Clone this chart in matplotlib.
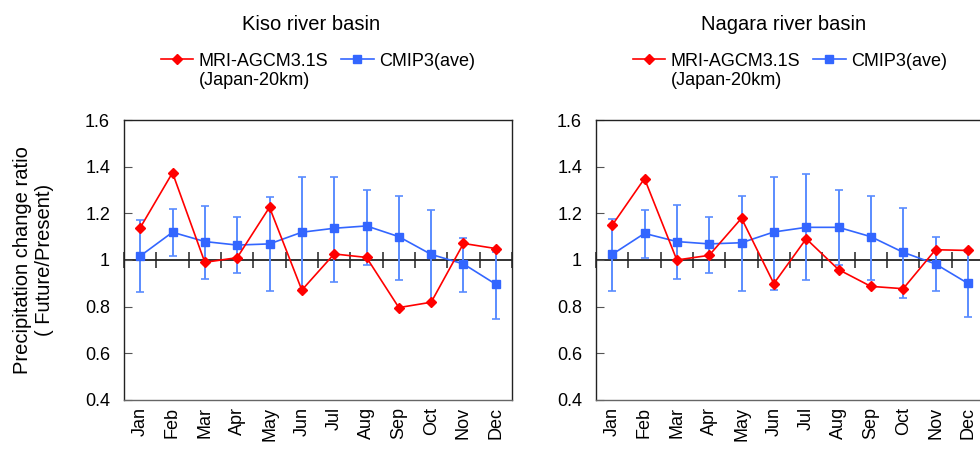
import numpy as np
import matplotlib
matplotlib.use('Agg')
import matplotlib.pyplot as plt
from matplotlib.lines import Line2D

plt.rcParams['font.family'] = ['Liberation Sans', 'DejaVu Sans']

months = ['Jan', 'Feb', 'Mar', 'Apr', 'May', 'Jun',
          'Jul', 'Aug', 'Sep', 'Oct', 'Nov', 'Dec']

# Kiso river basin
kiso_mri = [1.138, 1.374, 0.990, 1.010, 1.226, 0.871,
            1.026, 1.011, 0.796, 0.819, 1.071, 1.049]
kiso_cmip = [1.017, 1.119, 1.079, 1.064, 1.069, 1.119,
             1.136, 1.146, 1.100, 1.024, 0.983, 0.896]
kiso_hi = [1.170, 1.220, 1.230, 1.184, 1.271, 1.357,
           1.357, 1.301, 1.276, 1.216, 1.093, 1.036]
kiso_lo = [0.862, 1.016, 0.919, 0.944, 0.867, 0.875,
           0.907, 0.979, 0.913, 0.821, 0.862, 0.748]

# Nagara river basin
nagara_mri = [1.149, 1.349, 1.000, 1.020, 1.179, 0.899,
              1.091, 0.959, 0.887, 0.877, 1.044, 1.041]
nagara_cmip = [1.024, 1.114, 1.079, 1.069, 1.074, 1.120,
               1.140, 1.140, 1.100, 1.033, 0.983, 0.900]
nagara_hi = [1.174, 1.216, 1.234, 1.184, 1.276, 1.357,
             1.370, 1.301, 1.276, 1.224, 1.097, 1.035]
nagara_lo = [0.867, 1.010, 0.919, 0.944, 0.867, 0.873,
             0.913, 0.979, 0.913, 0.836, 0.867, 0.754]

titles = ['Kiso river basin', 'Nagara river basin']
label_mri = 'MRI-AGCM3.1S'
label_mri_2 = '(Japan-20km)'
label_cmip = 'CMIP3(ave)'

RED = '#FF0000'
BLUE = '#3366FF'
BLUE_ERR = '#5A8CFF'


def draw_panel(ax, title, mri, cmip, hi, lo):
    x = np.arange(len(months))
    cmip = np.array(cmip)
    yerr = [cmip - np.array(lo), np.array(hi) - cmip]

    # reference line at 1 with category-boundary ticks
    ax.axhline(1.0, color='#333333', lw=1.4, zorder=1)
    bounds = np.arange(len(months) + 1) - 0.5
    ax.plot(bounds, np.ones_like(bounds), ls='none', marker='|', ms=11,
            mew=1.1, color='#222222', zorder=1, clip_on=False)

    ax.errorbar(x, cmip, yerr=yerr, fmt='none', ecolor=BLUE_ERR,
                elinewidth=1.4, capsize=3.2, capthick=1.2, zorder=2)
    l2, = ax.plot(x, cmip, color=BLUE, lw=1.2, marker='s', ms=5.5,
                  zorder=3, label=label_cmip)
    l1, = ax.plot(x, mri, color=RED, lw=1.2, marker='D', ms=5.5,
                  zorder=4, label=label_mri)
    blank = Line2D([], [], color='none')

    ax.set_xlim(-0.5, len(months) - 0.5)
    ax.set_ylim(0.4, 1.6)
    ax.set_yticks([0.4, 0.6, 0.8, 1.0, 1.2, 1.4, 1.6])
    ax.set_yticklabels(['0.4', '0.6', '0.8', '1', '1.2', '1.4', '1.6'])
    ax.set_xticks(x)
    ax.set_xticklabels(months, rotation=90)
    ax.tick_params(axis='x', length=0, pad=5, labelsize=13)
    ax.tick_params(axis='y', direction='in', length=6, color='#555555',
                   pad=10, labelsize=13)
    for sp in ax.spines.values():
        sp.set_color('#222222')
        sp.set_linewidth(1.0)
    ax.spines['bottom'].set_color('#666666')

    ax.text(0.483, 1.34, title, transform=ax.transAxes, ha='center',
            va='center', fontsize=14.5)
    # second legend row only carries the rest of the MRI label
    ax.legend(handles=[l1, blank, l2],
              labels=[label_mri, label_mri_2, label_cmip],
              loc='upper center', bbox_to_anchor=(0.5, 1.24), ncol=2,
              frameon=False, fontsize=13, handlelength=1.8,
              handletextpad=0.3, columnspacing=0.7, labelspacing=0.12,
              borderaxespad=0, borderpad=0)


fig = plt.figure(figsize=(9.8, 4.51), dpi=100)
ax1 = fig.add_axes([124 / 980, 1 - 400 / 451, 388 / 980, 280 / 451])
ax2 = fig.add_axes([596 / 980, 1 - 400 / 451, 388 / 980, 280 / 451])

draw_panel(ax1, titles[0], kiso_mri, kiso_cmip, kiso_hi, kiso_lo)
draw_panel(ax2, titles[1], nagara_mri, nagara_cmip, nagara_hi, nagara_lo)

fig.text(33 / 980, 1 - 260 / 451,
         'Precipitation change ratio\n( Future/Present)',
         rotation=90, ha='center', va='center', fontsize=14.5,
         linespacing=1.2)

fig.savefig('out.png', dpi=100)
